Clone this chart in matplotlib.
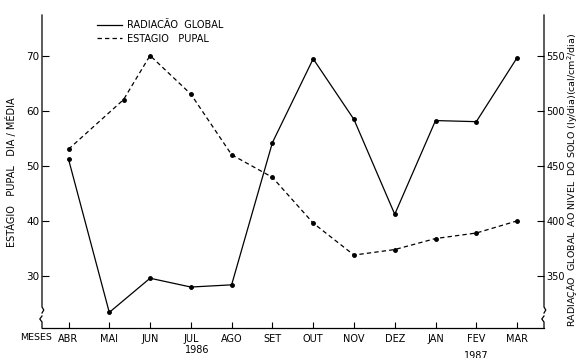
import matplotlib.pyplot as plt
import numpy as np

meses = ['ABR', 'MAI', 'JUN', 'JUL', 'AGO', 'SET', 'OUT', 'NOV', 'DEZ', 'JAN', 'FEV', 'MAR']
x_meses = np.arange(len(meses))

# radiacao global (ly/dia), eixo da direita
radiacao = [456, 317, 348, 340, 342, 471, 547, 492, 406, 491, 490, 548]
# estagio pupal (dias), eixo da esquerda; o ponto de maio esta deslocado no original
x_pupal = [0, 1.35, 2, 3, 4, 5, 6, 7, 8, 9, 10, 11]
pupal = [53.0, 62.0, 70.0, 63.0, 52.0, 47.9, 39.6, 33.8, 34.8, 36.8, 37.8, 40.0]

plt.rcParams['font.family'] = 'DejaVu Sans'
plt.rcParams['font.size'] = 7

fig = plt.figure(figsize=(5.8, 3.58), dpi=100)
ax = fig.add_axes([42 / 580, 1 - 328 / 358, 502 / 580, 313 / 358])
ax2 = ax.twinx()

ax.set_xlim(-0.65, 11.66)
ax.set_ylim(20.57, 77.35)
# eixo direito: 550 <-> 70, 5 unidades por dia
ax2.set_ylim(550 + (20.57 - 70) * 5, 550 + (77.35 - 70) * 5)

ln_rad, = ax2.plot(x_meses, radiacao, color='black', lw=0.9, marker='o', ms=2.5,
                   label='RADIACÃO  GLOBAL')
ln_pup, = ax.plot(x_pupal, pupal, color='black', lw=0.9, ls=(0, (3.5, 2.5)),
                  marker='o', ms=2.5, label='ESTAGIO   PUPAL')

for a in (ax, ax2):
    for s in a.spines.values():
        s.set_visible(False)
ax.spines['bottom'].set_visible(True)
ax.spines['bottom'].set_linewidth(0.9)

ax.set_xticks(x_meses)
ax.set_xticklabels(meses, fontsize=7)
ax.tick_params(axis='x', direction='in', length=4, width=0.8, pad=4)
ax.set_yticks([30, 40, 50, 60, 70])
ax.tick_params(axis='y', direction='in', length=5, width=0.8, pad=2, labelsize=7.5)
ax2.set_yticks([350, 400, 450, 500, 550])
ax2.tick_params(axis='y', direction='in', length=5, width=0.8, pad=1.5, labelsize=7)

# eixos verticais com marca de interrupcao
w, h = 502.0, 313.0
pts = [(0, h), (0, 21), (1.8, 18), (0, 15), (np.nan, np.nan), (0, 12), (-2.2, 9), (0, 6), (0, 0)]
for xb in (0.0, 1.0):
    xs = [xb + p[0] / w for p in pts]
    ys = [p[1] / h for p in pts]
    ax.plot(xs, ys, transform=ax.transAxes, color='black', lw=0.9, clip_on=False)

tr = ax.get_xaxis_transform()
ax.text(-0.8, -0.0165, 'MESES', transform=tr, ha='center', va='top', fontsize=6.8)
ax.text(3.15, -0.070, '1986', transform=tr, ha='center', va='center', fontsize=7)
ax.text(10, -0.090, '1987', transform=tr, ha='center', va='center', fontsize=7)

fig.text(12 / 580, 1 - 172 / 358, 'ESTÁGIO   PUPAL   DIA / MÉDIA', rotation=90,
         ha='center', va='center', fontsize=7)
fig.text(573 / 580, 1 - 180 / 358,
         'RADIAÇÃO  GLOBAL  AO NIVEL  DO SOLO (ly/dia)(cal/cm$^2$/dia)', rotation=90,
         ha='center', va='center', fontsize=6.8)

ax.legend(handles=[ln_rad, ln_pup], loc='upper left', bbox_to_anchor=(55 / 502, 1 - 5 / 313),
          frameon=False, handlelength=2.6, handletextpad=0.5, labelspacing=0.4,
          borderaxespad=0, borderpad=0, fontsize=7)
leg = ax.get_legend()
for lh in leg.legend_handles:
    lh.set_marker('')

fig.savefig('out.png', dpi=100, facecolor='white')
